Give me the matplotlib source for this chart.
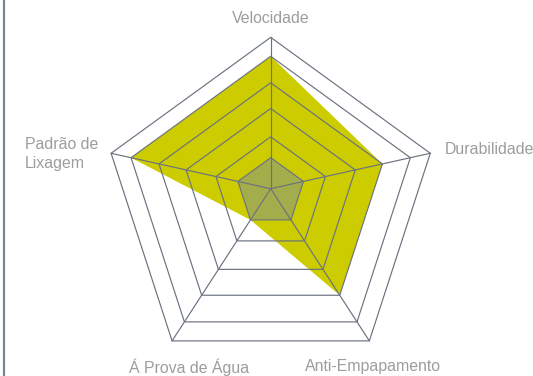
import numpy as np
import matplotlib
matplotlib.use("Agg")
import matplotlib.pyplot as plt

# ---- data ----
categories = ["Velocidade", "Durabilidade", "Anti-Empapamento", "Á Prova de Água", "Padrão de\nLixagem"]
series_main = [0.875, 0.70, 0.70, 0.205, 0.875]
series_base = [0.205, 0.205, 0.205, 0.205, 0.205]
ring_levels = [0.205, 0.343, 0.53, 0.70, 0.875, 1.0]

# ---- geometry (style) ----
W, H = 533, 376
cx_px, cy_px = 270.7, 188.7
R_px = 167.8
offset = 0.098  # pentagon centre sits below the spoke hub

n = len(categories)
theta = np.arange(n) * 2 * np.pi / n
dirs = np.column_stack([np.sin(theta), np.cos(theta) - offset])

def poly(vals):
    v = np.asarray(vals)[:, None]
    return dirs * v

fig = plt.figure(figsize=(W / 100, H / 100), dpi=100)
ax = fig.add_axes([0, 0, 1, 1])
ax.set_xlim(-cx_px / R_px, (W - cx_px) / R_px)
ax.set_ylim(-(H - cy_px) / R_px, cy_px / R_px)
ax.axis("off")

grid_col = "#6b7280"
p = poly(series_main)
ax.fill(p[:, 0], p[:, 1], color="#cccc00", lw=0, zorder=1)
p = poly(series_base)
ax.fill(p[:, 0], p[:, 1], color="#a4ad4b", lw=0, zorder=2)

for lv in ring_levels:
    p = poly([lv] * n)
    ax.fill(p[:, 0], p[:, 1], fill=False, edgecolor=grid_col, lw=0.85, zorder=3)
for d in dirs:
    ax.plot([0, d[0]], [0, d[1]], color=grid_col, lw=0.85, zorder=3)

# labels
txt = dict(color="#9d9d9d", fontsize=11.4, family="Liberation Sans")
outer = poly([1.0] * n)
px = 1 / R_px
ax.text(outer[0, 0], outer[0, 1] + 19 * px, categories[0], ha="center", va="center", **txt)
ax.text(outer[1, 0] + 14 * px, outer[1, 1] + 4 * px, categories[1], ha="left", va="center", **txt)
ax.text(outer[2, 0] + 4 * px, outer[2, 1] - 26 * px, categories[2], ha="center", va="center", **txt)
ax.text(outer[3, 0] + 17 * px, outer[3, 1] - 26 * px, categories[3], ha="center", va="center", **txt)
ax.text(outer[4, 0] - 86 * px, outer[4, 1] - 0.5 * px, categories[4], ha="left", va="center",
        linespacing=1.3, **txt)

# left border line
ax.plot([(3.8 - cx_px) / R_px] * 2, [-(H - cy_px) / R_px, cy_px / R_px],
        color="#7c8594", lw=1.6, zorder=4)

fig.savefig("out.png", dpi=100)
